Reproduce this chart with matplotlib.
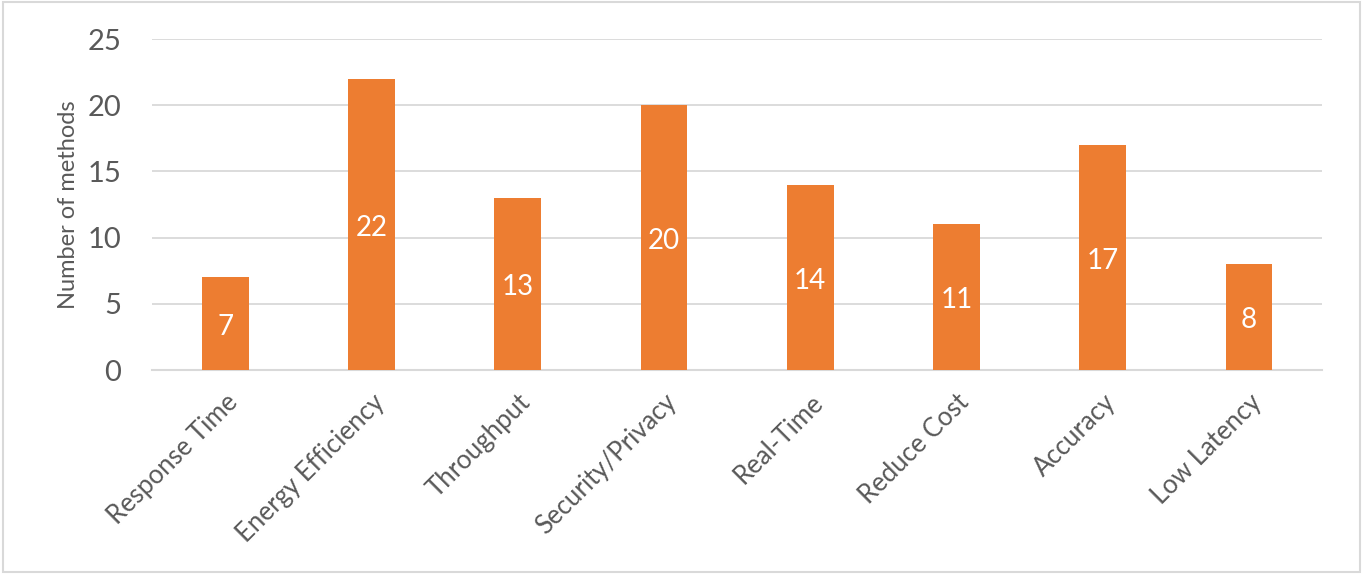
import numpy as np
import matplotlib
matplotlib.use("Agg")
import matplotlib.pyplot as plt
from matplotlib.patches import Rectangle

categories = ["Response Time", "Energy Efficiency", "Throughput", "Security/Privacy",
              "Real-Time", "Reduce Cost", "Accuracy", "Low Latency"]
counts = [7, 22, 13, 20, 14, 11, 17, 8]
y_ticks = [0, 5, 10, 15, 20, 25]

plt.rcParams['font.family'] = ['Lato', 'DejaVu Sans']
grey = '#595959'

fig = plt.figure(figsize=(13.63, 5.74), dpi=100)
ax = fig.add_axes([0.1115, 0.3554, 0.8585, 0.5766])

x = np.arange(len(categories))
bars = ax.bar(x, counts, width=0.32, color='#ED7D31', zorder=3)

for xi, v in zip(x, counts):
    ax.text(xi, v / 2 - 0.25, str(v), ha='center', va='center', color='white', fontsize=20, zorder=4)

ax.set_xlim(-0.5, len(categories) - 0.5)
ax.set_ylim(0, 25)
ax.set_yticks(y_ticks)
ax.set_yticklabels([str(t) for t in y_ticks], fontsize=21, color=grey)
ax.tick_params(axis='y', length=0, pad=22)
ax.set_xticks(x)
ax.set_xticklabels(categories, rotation=45, ha='right', rotation_mode='anchor',
                   fontsize=18.5, color=grey)
ax.tick_params(axis='x', length=0, pad=14)
ax.set_ylabel("Number of methods", fontsize=17, color=grey, labelpad=6)

ax.grid(axis='y', color='#d9d9d9', linewidth=1.3, zorder=0)
for s in ['top', 'right', 'left']:
    ax.spines[s].set_visible(False)
ax.spines['bottom'].set_color('#d9d9d9')
ax.spines['bottom'].set_linewidth(1.5)

fig.patches.append(Rectangle((0.002, 0.003), 0.996, 0.994, transform=fig.transFigure,
                             fill=False, edgecolor='#d9d9d9', linewidth=1.5))

fig.savefig("out.png", dpi=100)
